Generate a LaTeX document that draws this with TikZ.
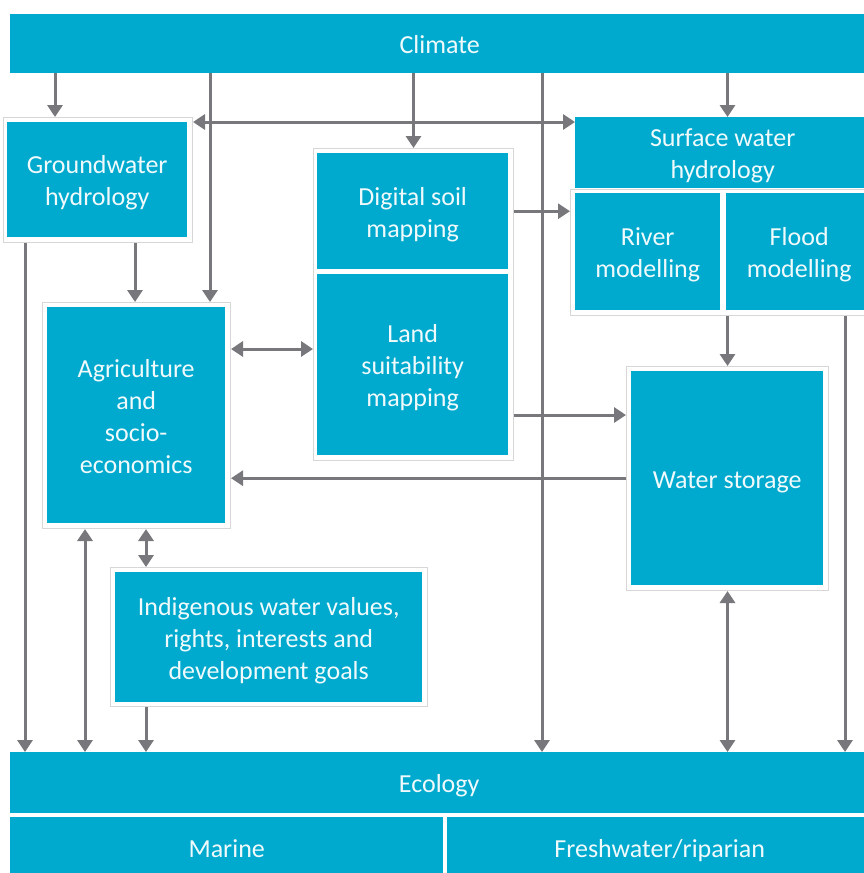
\documentclass[tikz,border=0pt]{standalone}
\usepackage{fontspec}
\setmainfont{Carlito}
\usetikzlibrary{arrows.meta,calc}
\definecolor{boxblue}{RGB}{0,170,206}
\definecolor{arrgray}{RGB}{120,120,124}
\definecolor{framegray}{RGB}{215,215,215}
\definecolor{boxtext}{RGB}{240,250,252}
\newcommand\fst{\rule{0pt}{26.7pt}}
\newcommand\lst{\rule[-7pt]{0pt}{7pt}}
\begin{document}
\begin{tikzpicture}[x=1pt,y=-1pt,
 bluebox/.style={fill=boxblue,draw=none,text=boxtext,align=center,inner sep=0pt,
   font=\fontsize{26}{32}\selectfont,anchor=north west},
 frm/.style={fill=white,draw=framegray,line width=1pt,inner sep=0pt,anchor=north west},
 arr/.style={draw=arrgray,line width=3pt,-{Triangle[length=12pt,width=15pt]}},
 darr/.style={draw=arrgray,line width=3pt,{Triangle[length=12pt,width=15pt]}-{Triangle[length=12pt,width=15pt]}},
 ln/.style={draw=arrgray,line width=3pt}]
\useasboundingbox (0,0) rectangle (864,873);
\begin{scope}
\clip (0,0) rectangle (864,873);
% helper coordinates
\coordinate (x25) at (25,0);
\coordinate (x55) at (55,0);
\coordinate (x85) at (85,0);
\coordinate (x135) at (135,0);
\coordinate (x146) at (146,0);
\coordinate (x210) at (210,0);
\coordinate (x542) at (542,0);
\coordinate (x845) at (845,0);
\coordinate (y349) at (0,349);
\coordinate (y415) at (0,415);

% boxes
\node[bluebox,minimum width=859pt,minimum height=59pt] (climate) at (10,14) {\fst Climate\lst};

\node[frm,minimum width=189pt,minimum height=125pt] (gwo) at (3,117) {};
\node[bluebox,minimum width=180pt,minimum height=115pt] (gw) at (7,122) {\fst Groundwater\\hydrology\lst};

\node[frm,minimum width=188pt,minimum height=226pt] (agro) at (42,302) {};
\node[bluebox,minimum width=178pt,minimum height=216pt] (agr) at (47,307) {\fst Agriculture\\and\\socio-\\economics\lst};

\node[frm,minimum width=200pt,minimum height=312pt] (dsmo) at (313,148) {};
\node[bluebox,minimum width=191pt,minimum height=116pt] (dsm) at (317,153) {\fst Digital soil\\mapping\lst};
\node[bluebox,minimum width=191pt,minimum height=181pt] (lsm) at (317,274) {\fst Land\\suitability\\mapping\lst};

\node[bluebox,minimum width=295pt,minimum height=71pt] (sw) at (575,117) {\fst Surface water\\hydrology\lst};

\node[frm,minimum width=305pt,minimum height=126pt] (rfo) at (570,189) {};
\node[bluebox,minimum width=145pt,minimum height=117pt] (river) at (575,193) {\fst River\\modelling\lst};
\node[bluebox,minimum width=146pt,minimum height=117pt] (flood) at (726,193) {\fst Flood\\modelling\lst};

\node[frm,minimum width=202pt,minimum height=224pt] (wso) at (626,366) {};
\node[bluebox,minimum width=192pt,minimum height=214pt] (ws) at (631,371) {\fst Water storage\lst};

\node[frm,minimum width=317pt,minimum height=139pt] (indo) at (110,567) {};
\node[bluebox,minimum width=307pt,minimum height=130pt] (ind) at (115,572) {\fst Indigenous water values,\\rights, interests and\\development goals\lst};

\node[bluebox,minimum width=858pt,minimum height=61pt] (eco) at (10,752) {\fst Ecology\lst};
\node[bluebox,minimum width=433pt,minimum height=60pt] (marine) at (10,817) {\fst Marine\lst};
\node[bluebox,minimum width=425pt,minimum height=60pt] (fresh) at (447,817) {\fst Freshwater/riparian\lst};

% connectors
\draw[arr] (climate.south -| x55) -- (gwo.north -| x55);
\draw[arr] (climate.south -| x210) -- (agro.north -| x210);
\draw[arr] (gwo.south -| x135) -- (agro.north -| x135);
\draw[darr] ([yshift=-5pt]gwo.north east) -- ([yshift=-5pt]gwo.north east -| sw.west);
\draw[arr] (climate.south -| dsmo.north) -- (dsmo.north);
\draw[arr] (climate.south -| x542) -- (eco.north -| x542);
\draw[arr] (climate.south -| wso.north) -- (sw.north -| wso.north);
\draw[arr] (dsm.east -| dsmo.east) -- (dsm.east -| rfo.west);
\draw[arr] (rfo.south -| wso.north) -- (wso.north);
\draw[arr] (rfo.south -| x845) -- (eco.north -| x845);
\draw[arr] (dsmo.east |- y415) -- (wso.west |- y415);
\draw[arr] (wso.west |- ws.center) -- (agro.east |- ws.center);
\draw[darr] (agro.east |- y349) -- (dsmo.west |- y349);
\draw[arr] (gwo.south -| x25) -- (eco.north -| x25);
\draw[darr] (agro.south -| x85) -- (eco.north -| x85);
\draw[darr] (agro.south -| x146) -- (indo.north -| x146);
\draw[arr] (indo.south -| x146) -- (eco.north -| x146);
\draw[darr] (wso.south) -- (eco.north -| wso.south);
\end{scope}
\end{tikzpicture}
\end{document}
